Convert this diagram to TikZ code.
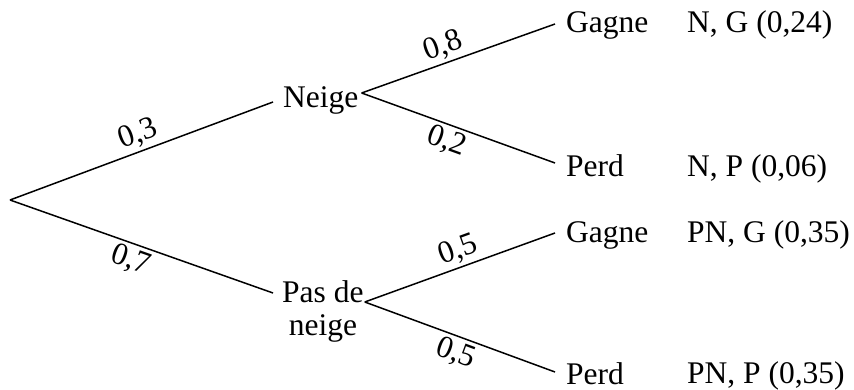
\documentclass[tikz,border=0pt]{standalone}
\usepackage{fontspec}
\setmainfont{Liberation Serif}
\begin{document}
\begin{tikzpicture}[x=1pt,y=-1pt,
  every node/.style={inner sep=0pt, font=\fontsize{31.5}{33}\selectfont},
  txt/.style={anchor=base west},
  lbl/.style={inner sep=3pt, sloped},
  branch/.style={line width=1.5pt}]
\useasboundingbox (0,0) rectangle (854,390);
\coordinate (root) at (10,200);
\node[txt] (neige) at (283,108) {Neige};
\node[txt, align=center] (pas) at (282,335) {Pas de\\neige};
\node[txt] (g1) at (566,33) {Gagne};
\node[txt] (p1) at (566,177) {Perd};
\node[txt] (g2) at (566,243) {Gagne};
\node[txt] (p2) at (566,384) {Perd};
\node[txt] (o1) at (687,33) {N, G (0,24)};
\node[txt] (o2) at (687,177) {N, P (0,06)};
\node[txt] (o3) at (687,243) {PN, G (0,35)};
\node[txt] (o4) at (687,383) {PN, P (0,35)};
\draw[branch] (root) -- ([shift={(-10,-6)}]neige.base west) node[lbl, above, pos=0.51] {0,3};
\draw[branch] (root) -- ([shift={(-9,-42)}]pas.base west) node[lbl, below, pos=0.48] {0,7};
\draw[branch] ([shift={(3,-15)}]neige.base east) -- ([shift={(-11,-9)}]g1.base west) node[lbl, above, pos=0.45] {0,8};
\draw[branch] ([shift={(3,-15)}]neige.base east) -- ([shift={(-11,-14)}]p1.base west) node[lbl, below, pos=0.47] {0,2};
\draw[branch] ([shift={(1,-33)}]pas.base east) -- ([shift={(-11,-10)}]g2.base west) node[lbl, above, pos=0.52] {0,5};
\draw[branch] ([shift={(1,-33)}]pas.base east) -- ([shift={(-11,-12)}]p2.base west) node[lbl, below, pos=0.51] {0,5};
\end{tikzpicture}
\end{document}
